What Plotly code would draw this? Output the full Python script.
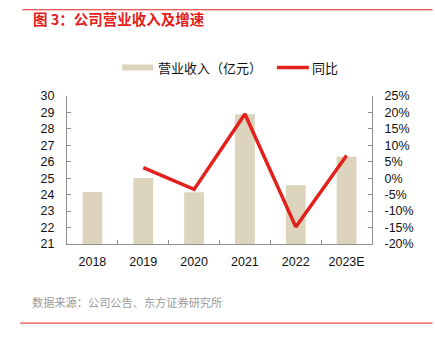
import plotly.graph_objects as go

# Revenue (100 million CNY) and YoY growth
years = ["2018", "2019", "2020", "2021", "2022", "2023E"]
revenue = [24.16, 25.02, 24.15, 28.89, 24.57, 26.30]
growth_years = ["2019", "2020", "2021", "2022", "2023E"]
growth_pct = [3.2, -3.4, 19.5, -14.8, 6.9]

left_ticks = list(range(21, 31))
right_ticks = list(range(-20, 30, 5))

BAR = "#DDD4BD"
RED = "#E3201B"
AXIS = "#8f8f8f"
W, H = 435, 343
CJK = "Noto Sans CJK SC"
NUM = "Liberation Sans, Arial, sans-serif"

fig = go.Figure()
fig.add_trace(go.Bar(x=years, y=revenue, marker=dict(color=BAR, line_width=0),
                     width=0.39, name="营业收入（亿元）", showlegend=False))
fig.add_trace(go.Scatter(x=growth_years, y=growth_pct, yaxis="y2", mode="lines",
                         line=dict(color=RED, width=3.5), name="同比", showlegend=False))

# plot area edges in pixels
L, R, T, B = 66.7, 372.3, 95.7, 244.5

fig.update_layout(
    width=W, height=H,
    margin=dict(l=L, r=W - R, t=T, b=H - B, autoexpand=False),
    paper_bgcolor="white", plot_bgcolor="white",
    font=dict(family=NUM, size=12.5, color="#111"),
    xaxis=dict(type="category", showline=True, linecolor=AXIS, linewidth=1,
               ticks="inside", ticklen=4, tickcolor=AXIS, tickson="boundaries",
               showgrid=False, tickfont=dict(size=12.5), ticklabelstandoff=6),
    yaxis=dict(range=[21, 30], tickvals=left_ticks, showline=True, linecolor=AXIS,
               ticks="inside", ticklen=4, tickcolor=AXIS, showgrid=False, zeroline=False,
               ticklabelstandoff=9, tickfont=dict(size=12.5)),
    yaxis2=dict(range=[-20, 25], overlaying="y", side="right", tickvals=right_ticks,
                ticktext=[f"{v}%" for v in right_ticks], showline=True, linecolor=AXIS,
                ticks="inside", ticklen=4, tickcolor=AXIS, showgrid=False, zeroline=False,
                ticklabelstandoff=9, tickfont=dict(size=12.5)),
    showlegend=False,
)


def px(x):
    """Pixel x -> paper x (paper spans the plot area)."""
    return (x - L) / (R - L)


def py(y):
    """Pixel y (from top) -> paper y."""
    return (B - y) / (B - T)


shapes = [
    # header and footer rules
    dict(type="line", xref="paper", yref="paper", x0=px(22), x1=px(433), y0=py(9), y1=py(9),
         line=dict(color=RED, width=1)),
    dict(type="line", xref="paper", yref="paper", x0=px(20), x1=px(433), y0=py(324), y1=py(324),
         line=dict(color=RED, width=1)),
    # legend swatches
    dict(type="rect", xref="paper", yref="paper", x0=px(122), x1=px(153), y0=py(70), y1=py(64),
         fillcolor=BAR, line_width=0),
    dict(type="line", xref="paper", yref="paper", x0=px(277), x1=px(309), y0=py(67), y1=py(67),
         line=dict(color=RED, width=3.5)),
]

annotations = [
    dict(text="<b>图 3：公司营业收入及增速</b>", x=px(31), y=py(18), xref="paper", yref="paper",
         xanchor="left", yanchor="middle", showarrow=False,
         font=dict(family=CJK, size=14.5, color=RED)),
    dict(text="营业收入（亿元）", x=px(156), y=py(67), xref="paper", yref="paper",
         xanchor="left", yanchor="middle", showarrow=False,
         font=dict(family=CJK, size=13, color="#111")),
    dict(text="同比", x=px(310), y=py(67), xref="paper", yref="paper",
         xanchor="left", yanchor="middle", showarrow=False,
         font=dict(family=CJK, size=13, color="#111")),
    dict(text="数据来源：公司公告、东方证券研究所", x=px(30), y=py(303), xref="paper", yref="paper",
         xanchor="left", yanchor="middle", showarrow=False,
         font=dict(family=CJK, size=11.2, color="#9a9a9a")),
]

fig.update_layout(shapes=shapes, annotations=annotations)
fig.write_html("out.html")
